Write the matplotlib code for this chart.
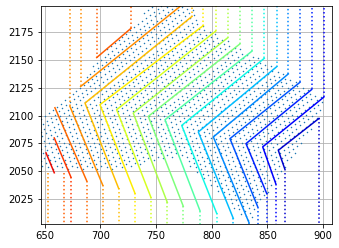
import numpy as np
import matplotlib.pyplot as plt
from matplotlib.path import Path

# solid part of each ray (x list, y list) and its colour value on the jet map
ray_x = [
    [658.6, 651.2],
    [673.6, 658.6],
    [687.7, 659.2],
    [702.1, 672.7],
    [716.4, 686.2, 782.0],
    [731.1, 699.6, 792.4],
    [745.4, 714.6, 803.5],
    [760.1, 729.5, 814.3],
    [774.4, 743.0, 825.3],
    [789.4, 758.0, 836.1],
    [804.4, 773.0, 847.1],
    [819.3, 787.9, 858.3],
    [833.4, 801.4, 868.7],
    [841.2, 816.3, 879.2],
    [849.3, 830.7, 889.7],
    [857.4, 845.7, 900.4],
    [865.4, 859.7, 896.2],
    [696.7, 727.5],
    [682.3, 780.0],
]
ray_y = [
    [2048.6, 2066.5],
    [2044.6, 2079.9],
    [2041.4, 2107.1],
    [2037.5, 2108.2],
    [2034.5, 2111.3, 2189.0],
    [2030.0, 2109.8, 2181.0],
    [2026.4, 2105.3, 2176.0],
    [2021.9, 2102.3, 2170.0],
    [2018.5, 2099.3, 2164.5],
    [2014.5, 2096.3, 2158.0],
    [2012.1, 2091.2, 2151.5],
    [2007.6, 2085.3, 2144.0],
    [2003.8, 2080.8, 2137.5],
    [2018.1, 2079.3, 2130.0],
    [2030.0, 2074.8, 2123.5],
    [2038.9, 2071.9, 2116.5],
    [2052.4, 2068.8, 2097.5],
    [2152.2, 2178.5],
    [2126.2, 2205.0],
]
ray_c = [0.90, 0.85, 0.80, 0.76, 0.71, 0.66, 0.61, 0.56, 0.50, 0.45,
         0.37, 0.31, 0.26, 0.21, 0.16, 0.12, 0.07, 0.81, 0.76]

# dotted vertical parts: x, end y inside the plot, side (1 = to top, -1 = to bottom), colour
vline_x = [653.2, 667.3, 673.6, 687.7, 702.1, 716.4, 731.1, 745.4, 760.1, 774.4,
           789.4, 804.4, 819.3, 833.4, 841.2, 849.3, 857.4, 865.4, 896.2,
           672.7, 682.3, 696.7, 727.5, 782.0, 792.4, 803.5, 814.3, 825.3, 836.1,
           847.1, 858.3, 868.7, 879.2, 889.7, 900.4]
vline_y = [2048.6, 2048.6, 2044.6, 2041.4, 2037.5, 2034.5, 2030.0, 2026.4, 2021.9, 2018.5,
           2014.5, 2012.1, 2007.6, 2003.8, 2018.1, 2030.0, 2038.9, 2052.4, 2097.5,
           2108.2, 2126.2, 2152.2, 2178.5, 2189.0, 2181.0, 2176.0, 2170.0, 2164.5, 2158.0,
           2151.5, 2144.0, 2137.5, 2130.0, 2123.5, 2116.5]
vline_side = [-1] * 19 + [1] * 16
vline_c = [0.76, 0.81, 0.85, 0.80, 0.76, 0.71, 0.66, 0.61, 0.56, 0.50,
           0.45, 0.37, 0.31, 0.26, 0.21, 0.16, 0.12, 0.07, 0.07,
           0.76, 0.76, 0.81, 0.81, 0.71, 0.66, 0.61, 0.56, 0.50, 0.45,
           0.37, 0.31, 0.26, 0.21, 0.16, 0.12]

# outline of the dotted lattice region and the two lattice steps
region_x = [646.0, 708.6, 771.5, 834.3, 841.2, 857.4, 865.4, 896.2,
            900.4, 792.4, 780.0, 745.0, 727.5, 696.7, 682.3, 646.0]
region_y = [2050.6, 2050.6, 2063.2, 2003.1, 2018.1, 2038.9, 2052.4, 2097.5,
            2116.5, 2181.0, 2199.0, 2199.0, 2178.5, 2152.2, 2126.2, 2100.0]
step_a = (3.5, 2.8)
step_b = (4.9, -1.4)
origin = (773.0, 2091.2)

xlim = (646.4, 907.5)
ylim = (2002.6, 2198.6)

fig = plt.figure(figsize=(339 / 72, 248 / 72), dpi=72)
ax = fig.add_axes([0.120, 0.097, 0.858, 0.879])

# lattice of small dots
n = np.arange(-60, 61)
I, J = np.meshgrid(n, n)
px = origin[0] + I * step_a[0] + J * step_b[0]
py = origin[1] + I * step_a[1] + J * step_b[1]
pts = np.column_stack([px.ravel(), py.ravel()])
inside = Path(np.column_stack([region_x, region_y])).contains_points(pts)
ax.plot(pts[inside, 0], pts[inside, 1], '.', color='tab:blue', ms=3, mew=0)

for xs, ys, c in zip(ray_x, ray_y, ray_c):
    ax.plot(xs, ys, '-', color=plt.cm.jet(c), lw=1.5)

for x, y, s, c in zip(vline_x, vline_y, vline_side, vline_c):
    edge = ylim[1] + 5 if s > 0 else ylim[0] - 5
    ax.plot([x, x], [y, edge], ':', color=plt.cm.jet(c), lw=1.5)

ax.set_xlim(xlim)
ax.set_ylim(ylim)
ax.set_xticks([650, 700, 750, 800, 850, 900])
ax.set_yticks([2025, 2050, 2075, 2100, 2125, 2150, 2175])
ax.grid(True)

fig.savefig('out.png', dpi=72)
